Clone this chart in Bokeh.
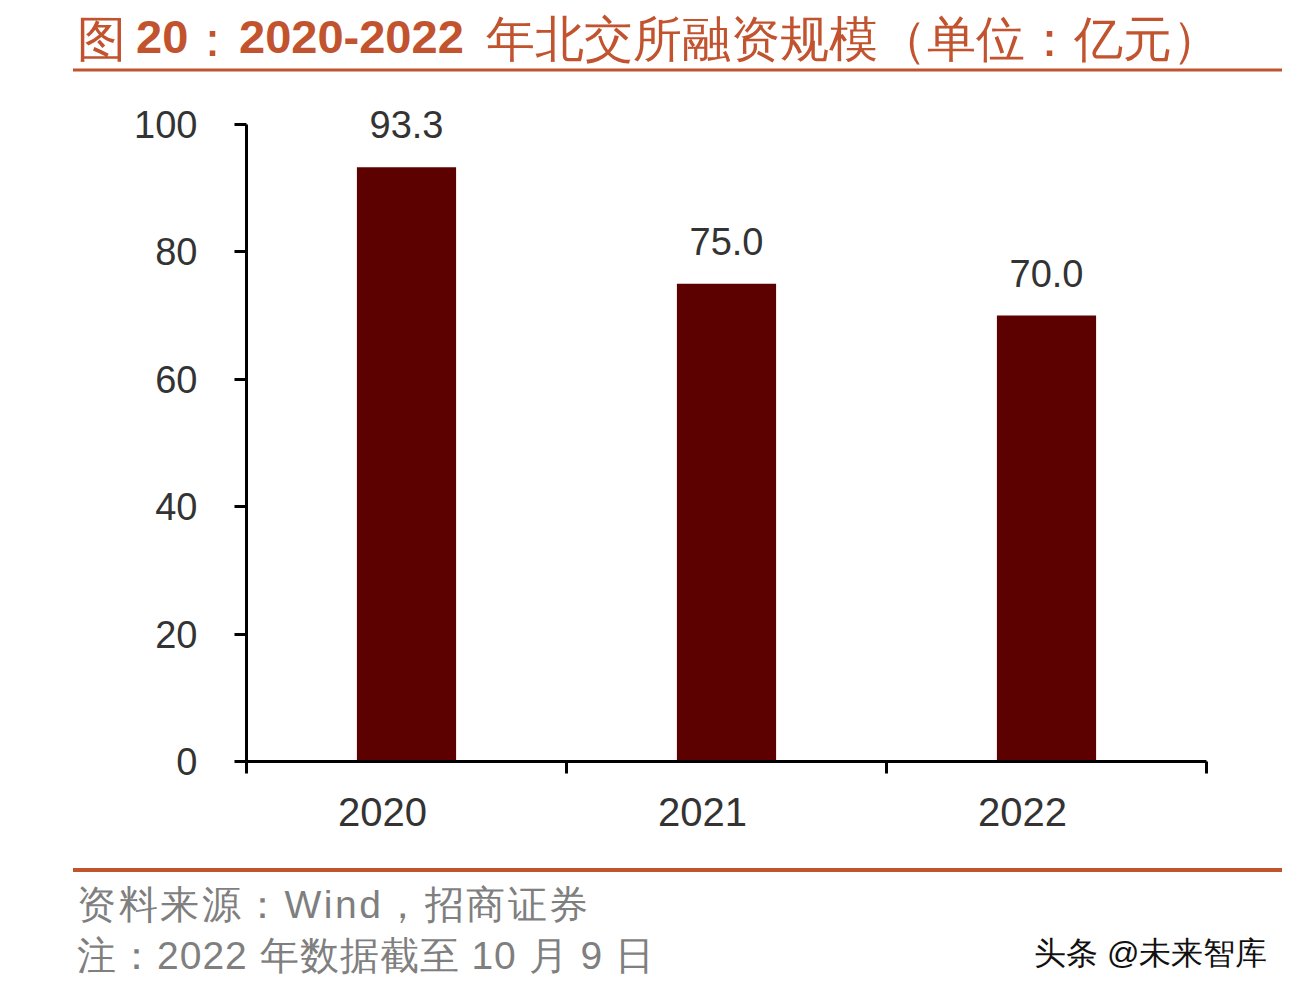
from bokeh.plotting import figure
from bokeh.layouts import column
from bokeh.models import FixedTicker, LabelSet, ColumnDataSource, Range1d, Div
from bokeh.core.properties import value
from bokeh.embed import file_html
from bokeh.resources import INLINE

# ---------------- data ----------------
years = ["2020", "2021", "2022"]
amounts = [93.3, 75.0, 70.0]
amount_labels = ["93.3", "75.0", "70.0"]
y_ticks = [0, 20, 40, 60, 80, 100]

title_prefix = "图 "
title_number = "20"
title_colon = "："
title_years = "2020-2022"
title_rest = " 年北交所融资规模（单位：亿元）"
source_note = "资料来源：Wind，招商证券"
date_note = "注：2022 年数据截至 10 月 9 日"
watermark = "头条 @未来智库"

# ---------------- style ----------------
ACCENT = "#C2532F"
BAR = "#5C0000"
TXT = "#333333"
GREY = "#7F7F7F"
CJK = "Noto Sans CJK SC"
LAT = "Liberation Sans"

W = 1284
HEAD_H = 95
FOOT_TOP = 860
FOOT_H = 984 - FOOT_TOP
FRAME_LEFT, FRAME_RIGHT = 246, 1206
FRAME_TOP, FRAME_BOTTOM = 124, 761
Y_MAX = 100
LABEL_SHIFT_PX = -24  # category labels sit slightly left of bar centres

# ---------------- header (inline svg) ----------------
head_svg = f'''<svg xmlns="http://www.w3.org/2000/svg" width="{W}" height="{HEAD_H}" style="display:block">
<text fill="{ACCENT}" font-family="{CJK}" font-size="49px" xml:space="preserve">
<tspan x="77" y="56">{title_prefix}</tspan><tspan x="136" y="53" font-family="{LAT}" font-weight="bold" font-size="47px">{title_number}</tspan><tspan x="188" y="56">{title_colon}</tspan><tspan x="239" y="53" font-family="{LAT}" font-weight="bold" font-size="47px">{title_years}</tspan><tspan x="472" y="56">{title_rest}</tspan></text>
<line x1="73" y1="70" x2="1282" y2="70" stroke="{ACCENT}" stroke-width="3"/>
</svg>'''
head = Div(text=head_svg, width=W, height=HEAD_H, margin=0)

# ---------------- main chart ----------------
main_h = FOOT_TOP - HEAD_H
y_end = Y_MAX * (FRAME_BOTTOM - HEAD_H) / (FRAME_BOTTOM - FRAME_TOP)
px_per_cat = (FRAME_RIGHT - FRAME_LEFT) / len(years)

x_pos = [i + 0.5 for i in range(len(years))]
bounds = list(range(len(years) + 1))
label_pos = [x + LABEL_SHIFT_PX / px_per_cat for x in x_pos]
src = ColumnDataSource(dict(x=x_pos, top=amounts, label=amount_labels))

p = figure(width=W, height=main_h, output_backend="svg", toolbar_location=None,
           x_range=Range1d(0, len(years)), y_range=Range1d(0, y_end),
           min_border_left=FRAME_LEFT, min_border_right=W - FRAME_RIGHT,
           min_border_top=0, min_border_bottom=FOOT_TOP - FRAME_BOTTOM,
           background_fill_color="white", border_fill_color="white")
p.outline_line_color = None
p.grid.visible = False

p.vbar(x="x", top="top", width=0.31, source=src, fill_color=BAR, line_color=None)
p.add_layout(LabelSet(x="x", y="top", text="label", source=src, text_align="center",
                      text_baseline="alphabetic", y_offset=29,
                      text_font=value(LAT), text_font_size="38px",
                      text_color=TXT))

ya = p.yaxis[0]
ya.ticker = FixedTicker(ticks=y_ticks)
ya.bounds = (0, Y_MAX)
ya.axis_line_width = 3
ya.axis_line_color = "black"
ya.major_tick_line_width = 3
ya.major_tick_line_color = "black"
ya.major_tick_out = 12
ya.major_tick_in = 0
ya.minor_tick_line_color = None
ya.major_label_standoff = 37
ya.major_label_text_font = LAT
ya.major_label_text_font_size = "38px"
ya.major_label_text_color = TXT

xa = p.xaxis[0]
xa.ticker = FixedTicker(ticks=label_pos, minor_ticks=bounds)
xa.major_label_overrides = {x: y for x, y in zip(label_pos, years)}
xa.axis_line_width = 3
xa.axis_line_color = "black"
xa.major_tick_line_color = None
xa.major_tick_out = 0
xa.major_tick_in = 0
xa.minor_tick_line_width = 3
xa.minor_tick_line_color = "black"
xa.minor_tick_out = 12
xa.minor_tick_in = 0
xa.major_label_standoff = 24
xa.major_label_text_font = LAT
xa.major_label_text_font_size = "40px"
xa.major_label_text_color = TXT

# ---------------- footer (inline svg) ----------------
def fy(py):
    return py - FOOT_TOP

foot_svg = f'''<svg xmlns="http://www.w3.org/2000/svg" width="{W}" height="{FOOT_H}" style="display:block">
<line x1="73" y1="{fy(870)}" x2="1282" y2="{fy(870)}" stroke="{ACCENT}" stroke-width="4"/>
<text x="77" y="{fy(918)}" fill="{GREY}" font-family="{LAT}, {CJK}" font-size="39px" letter-spacing="2.5px">{source_note}</text>
<text x="77" y="{fy(969)}" fill="{GREY}" font-family="{LAT}, {CJK}" font-size="39px" letter-spacing="1px" xml:space="preserve">{date_note}</text>
<text x="1034" y="{fy(964)}" fill="#111111" font-family="{CJK}" font-size="32px" xml:space="preserve">{watermark}</text>
</svg>'''
foot = Div(text=foot_svg, width=W, height=FOOT_H, margin=0)

layout = column(head, p, foot, spacing=0)
open("out.html", "w").write(file_html(layout, INLINE))
